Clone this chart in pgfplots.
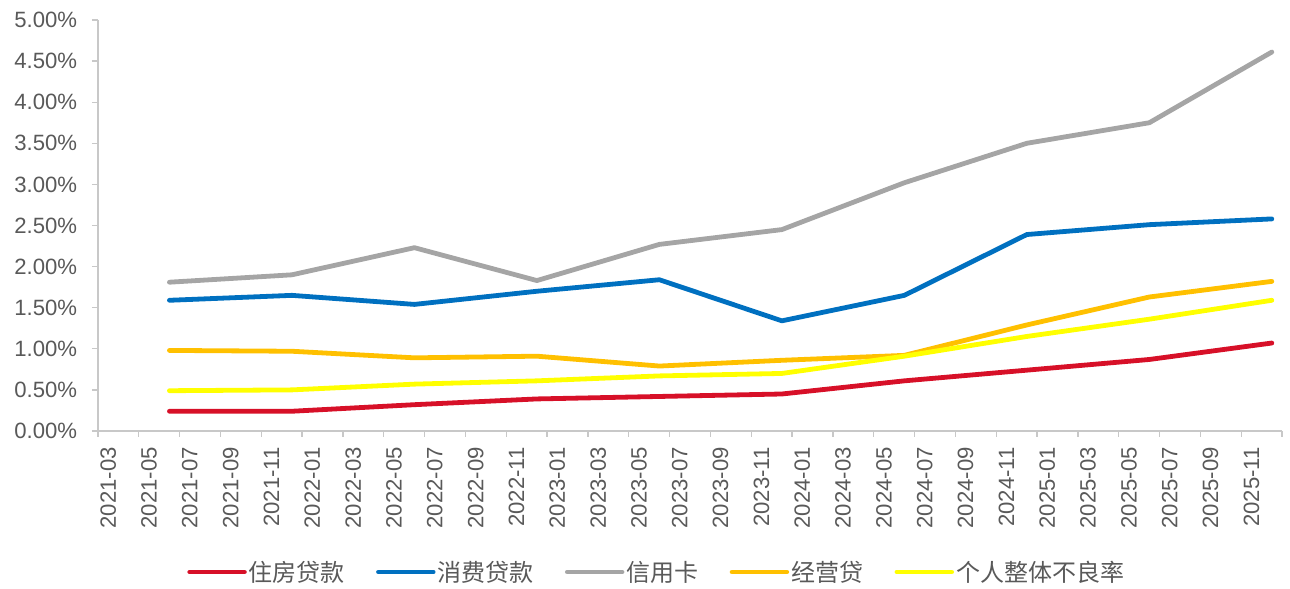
\documentclass[border=0pt]{standalone}
\usepackage{pgfplots}
\pgfplotsset{compat=1.18}
\usepackage{fontspec}
\setmainfont{Liberation Sans}
\newfontfamily\cjk{Noto Sans CJK SC}

\definecolor{cRed}{RGB}{215,16,40}
\definecolor{cBlue}{RGB}{0,112,192}
\definecolor{cGray}{RGB}{165,165,165}
\definecolor{cOrange}{RGB}{255,192,0}
\definecolor{cYellow}{RGB}{255,255,0}
\definecolor{cAxis}{RGB}{200,200,200}
\definecolor{cTxt}{RGB}{89,89,89}

\begin{document}
\begin{tikzpicture}
  \begin{axis}[
      name=ax,
      scale only axis,
      width=888pt, height=308.25pt,
      xmin=2.5, xmax=60.5, ymin=0, ymax=5,
      axis lines*=left,
      axis line style={draw=cAxis, line width=1pt},
      tick style={draw=cAxis, line width=1pt},
      tick align=outside,
      major tick length=4.5pt,
      ticklabel style={font=\fontsize{16.6}{19}\selectfont, text=cTxt},
      ytick={0,0.5,...,5},
      yticklabels={0.00\%,0.50\%,1.00\%,1.50\%,2.00\%,2.50\%,3.00\%,3.50\%,4.00\%,4.50\%,5.00\%},
      yticklabel style={inner sep=0pt, anchor=east, xshift=-11pt},
      xtick={2.5,4.5,...,60.5},
      xticklabels={},
      extra x ticks={3,5,...,59},
      extra x tick labels={2021-03,2021-05,2021-07,2021-09,2021-11,2022-01,2022-03,2022-05,2022-07,2022-09,2022-11,2023-01,2023-03,2023-05,2023-07,2023-09,2023-11,2024-01,2024-03,2024-05,2024-07,2024-09,2024-11,2025-01,2025-03,2025-05,2025-07,2025-09,2025-11},
      extra x tick style={major tick length=0pt,
        xticklabel style={rotate=90, anchor=east, inner sep=0pt}},
      xticklabel shift=12pt,
      legend columns=5,
      legend style={at={(0.5,0)}, anchor=center, yshift=-105.75pt, xshift=-25pt,
        draw=none, fill=none, text=cTxt,
        font=\cjk\fontsize{18}{21}\selectfont,
        nodes={inner xsep=1.5pt},
        /tikz/every even column/.append style={column sep=22pt}},
      legend cell align=left,
      legend image code/.code={\draw[#1, line cap=round] (0pt,0pt) -- (41pt,0pt);},
      every axis plot/.append style={line width=3.6pt, line join=round, line cap=round},
    ]
    \addplot[cRed] coordinates {
      (6,0.24) (12,0.24) (18,0.32) (24,0.39) (30,0.42)
      (36,0.45) (42,0.61) (48,0.74) (54,0.87) (60,1.07)};
    \addlegendentry{住房贷款}
    \addplot[cBlue] coordinates {
      (6,1.59) (12,1.65) (18,1.54) (24,1.70) (30,1.84)
      (36,1.34) (42,1.65) (48,2.39) (54,2.51) (60,2.58)};
    \addlegendentry{消费贷款}
    \addplot[cGray] coordinates {
      (6,1.81) (12,1.90) (18,2.23) (24,1.83) (30,2.27)
      (36,2.45) (42,3.02) (48,3.50) (54,3.75) (60,4.61)};
    \addlegendentry{信用卡}
    \addplot[cOrange] coordinates {
      (6,0.98) (12,0.97) (18,0.89) (24,0.91) (30,0.79)
      (36,0.86) (42,0.92) (48,1.29) (54,1.63) (60,1.82)};
    \addlegendentry{经营贷}
    \addplot[cYellow] coordinates {
      (6,0.49) (12,0.50) (18,0.57) (24,0.61) (30,0.67)
      (36,0.70) (42,0.91) (48,1.15) (54,1.36) (60,1.59)};
    \addlegendentry{个人整体不良率}
  \end{axis}
  \path (ax.south west) ++(-73.5pt,-117pt) (ax.north east) ++(6pt,15pt);
\end{tikzpicture}
\end{document}
